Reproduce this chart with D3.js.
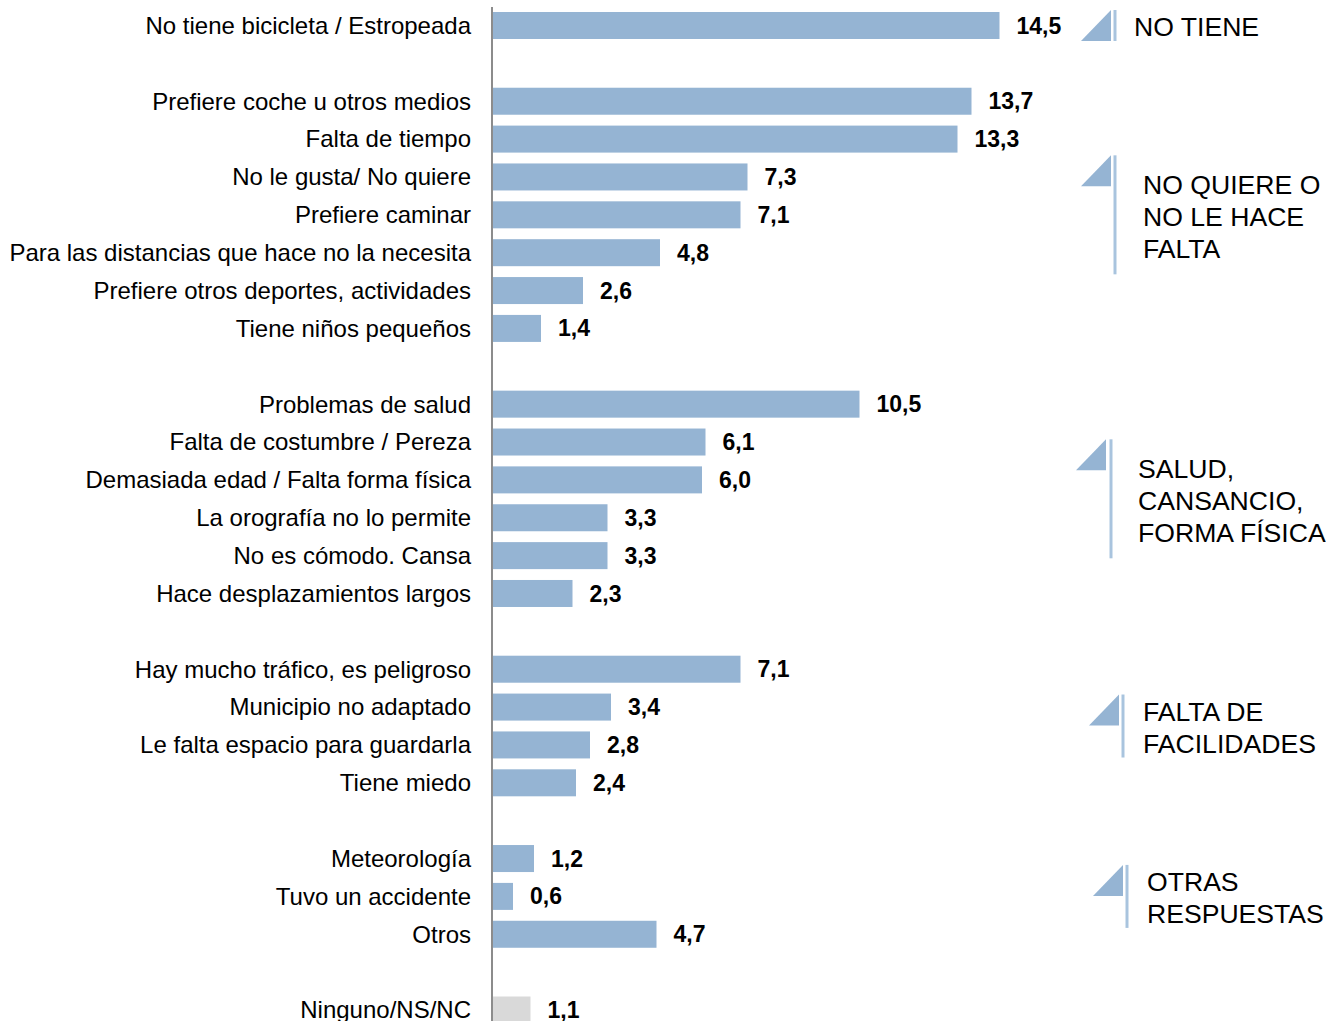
<!DOCTYPE html>
<html><head><meta charset="utf-8">
<script src="https://cdn.jsdelivr.net/npm/d3@7"></script>
<style>html,body{margin:0;padding:0;background:#fff;}svg{display:block;}</style>
</head><body>
<svg id="chart" width="1326" height="1021"></svg>
<script>
// ---- data ----
const categories = [
  "No tiene bicicleta / Estropeada",
  "Prefiere coche u otros medios",
  "Falta de tiempo",
  "No le gusta/ No quiere",
  "Prefiere caminar",
  "Para las distancias que hace no la necesita",
  "Prefiere otros deportes, actividades",
  "Tiene niños pequeños",
  "Problemas de salud",
  "Falta de costumbre / Pereza",
  "Demasiada edad / Falta forma física",
  "La orografía no lo permite",
  "No es cómodo. Cansa",
  "Hace desplazamientos largos",
  "Hay mucho tráfico, es peligroso",
  "Municipio no adaptado",
  "Le falta espacio para guardarla",
  "Tiene miedo",
  "Meteorología",
  "Tuvo un accidente",
  "Otros",
  "Ninguno/NS/NC"
];
const values = [14.5, 13.7, 13.3, 7.3, 7.1, 4.8, 2.6, 1.4, 10.5, 6.1, 6.0, 3.3, 3.3, 2.3, 7.1, 3.4, 2.8, 2.4, 1.2, 0.6, 4.7, 1.1];
const groups = ["g1","g2","g2","g2","g2","g2","g2","g2","g3","g3","g3","g3","g3","g3","g4","g4","g4","g4","g5","g5","g5","g6"];
const groupIds = ["g1","g2","g3","g4","g5"];
const groupLabels = [
  ["NO TIENE"],
  ["NO QUIERE O","NO LE HACE","FALTA"],
  ["SALUD,","CANSANCIO,","FORMA FÍSICA"],
  ["FALTA DE","FACILIDADES"],
  ["OTRAS","RESPUESTAS"]
];

// ---- layout (styles / positions) ----
const markerLayout = [
  {tri: 1081, line: 1115, text: 1134, h: 31},
  {tri: 1081, line: 1115, text: 1143, h: 119},
  {tri: 1076, line: 1111, text: 1138, h: 119},
  {tri: 1089, line: 1123, text: 1143, h: 63},
  {tri: 1093, line: 1127, text: 1147, h: 63}
];
const barColor = "#95b4d3";
const grayColor = "#d9d9d9";
const markerLineColor = "#a9c4de";
const font = "'Liberation Sans', Arial, sans-serif";

// slot index: add an empty slot at each group change
let slot = 0;
const slots = categories.map((c, i) => {
  if (i > 0 && groups[i] !== groups[i-1]) slot += 1;
  const s = slot; slot += 1; return s;
});
const nSlots = slot;

const svg = d3.select("#chart");
const x0 = 492;
const x = d3.scaleLinear().domain([0, 14.5]).range([x0, 999.5]);
const y = d3.scaleLinear().domain([0, nSlots - 1]).range([25.5, 1010]);
const barH = 27;

// bars
svg.append("g").selectAll("rect").data(categories).join("rect")
  .attr("x", x(0) + 1)
  .attr("y", (d, i) => y(slots[i]) - barH / 2)
  .attr("width", (d, i) => x(values[i]) - x(0) - 1)
  .attr("height", barH)
  .attr("fill", (d, i) => groups[i] === "g6" ? grayColor : barColor);

// axis line
svg.append("line")
  .attr("x1", x0).attr("x2", x0)
  .attr("y1", 7).attr("y2", 1021)
  .attr("stroke", "#8c8c8c").attr("stroke-width", 2);

// category labels
svg.append("g").selectAll("text").data(categories).join("text")
  .attr("x", x0 - 21)
  .attr("y", (d, i) => y(slots[i]))
  .attr("dy", "0.35em")
  .attr("text-anchor", "end")
  .attr("font-family", font)
  .attr("font-size", 24)
  .attr("fill", "#000")
  .text(d => d);

// value labels
const fmt = v => d3.format(".1f")(v).replace(".", ",");
svg.append("g").selectAll("text").data(values).join("text")
  .attr("x", d => x(d) + 17)
  .attr("y", (d, i) => y(slots[i]))
  .attr("dy", "0.35em")
  .attr("font-family", font)
  .attr("font-size", 23)
  .attr("font-weight", "bold")
  .attr("fill", "#000")
  .text(d => fmt(d));

// group markers
groupIds.forEach((g, gi) => {
  const idx = groups.map((v, i) => v === g ? i : -1).filter(i => i >= 0);
  const yc = (y(slots[idx[0]]) + y(slots[idx[idx.length - 1]])) / 2;
  const L = markerLayout[gi];
  const top = yc - L.h / 2, bot = yc + L.h / 2;
  const gg = svg.append("g");
  gg.append("path")
    .attr("d", `M${L.tri},${top + 31}L${L.tri + 30},${top + 31}L${L.tri + 30},${top}Z`)
    .attr("fill", barColor);
  gg.append("line")
    .attr("x1", L.line).attr("x2", L.line)
    .attr("y1", top).attr("y2", bot)
    .attr("stroke", markerLineColor).attr("stroke-width", 3);
  const lines = groupLabels[gi];
  const lh = 32;
  lines.forEach((t, li) => {
    gg.append("text")
      .attr("x", L.text)
      .attr("y", yc + 1.5 + (li - (lines.length - 1) / 2) * lh)
      .attr("dy", "0.35em")
      .attr("font-family", font)
      .attr("font-size", 26.6)
      .attr("fill", "#000")
      .text(t);
  });
});
</script>
</body></html>
